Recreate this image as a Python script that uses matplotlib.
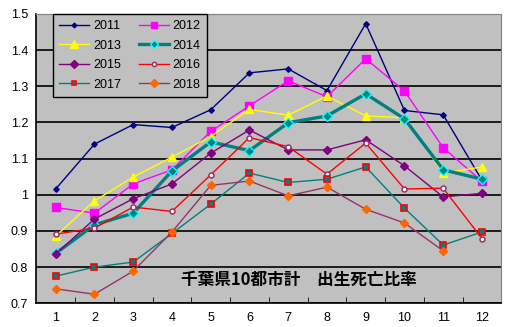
import matplotlib
matplotlib.use("Agg")
import matplotlib.pyplot as plt

plt.rcParams["font.family"] = ["Liberation Sans", "DejaVu Sans"]

months = [1, 2, 3, 4, 5, 6, 7, 8, 9, 10, 11, 12]

r2011 = [1.016, 1.140, 1.194, 1.186, 1.235, 1.337, 1.348, 1.288, 1.473, 1.233, 1.221, 1.040]
r2012 = [0.965, 0.949, 1.030, 1.069, 1.175, 1.246, 1.315, 1.271, 1.376, 1.287, 1.130, 1.037]
r2013 = [0.886, 0.983, 1.049, 1.104, 1.161, 1.236, 1.220, 1.273, 1.218, 1.213, 1.060, 1.077]
r2014 = [0.838, 0.917, 0.949, 1.066, 1.146, 1.122, 1.199, 1.218, 1.279, 1.210, 1.069, 1.043]
r2015 = [0.836, 0.933, 0.989, 1.030, 1.115, 1.179, 1.124, 1.124, 1.152, 1.080, 0.994, 1.004]
r2016 = [0.891, 0.908, 0.966, 0.954, 1.055, 1.158, 1.133, 1.057, 1.143, 1.016, 1.018, 0.879]
r2017 = [0.775, 0.800, 0.814, 0.893, 0.974, 1.060, 1.034, 1.043, 1.077, 0.963, 0.861, 0.897]
r2018 = [0.740, 0.725, 0.789, 0.897, 1.026, 1.038, 0.997, 1.021, 0.960, 0.922, 0.845]

yticks = [0.7, 0.8, 0.9, 1.0, 1.1, 1.2, 1.3, 1.4, 1.5]
ytick_labels = ["0.7", "0.8", "0.9", "1", "1.1", "1.2", "1.3", "1.4", "1.5"]

fig = plt.figure(figsize=(5.15, 3.27), dpi=100)
ax = fig.add_axes([0.0705, 0.0725, 0.903, 0.885])
ax.set_facecolor("#C0C0C0")

styles = {
    "2011": dict(color="#000080", lw=1, marker="D", ms=2.8, mfc="#000080", mec="#000080"),
    "2012": dict(color="#FF00FF", lw=1, marker="s", ms=5.5, mfc="#FF00FF", mec="#FF00FF"),
    "2013": dict(color="#FFFF00", lw=1, marker="^", ms=6, mfc="#FFFF00", mec="#FFFF00"),
    "2014": dict(color="#008080", lw=2.4, marker="D", ms=4.8, mfc="#008080", mec="#00FFFF", mew=1),
    "2015": dict(color="#800080", lw=1, marker="D", ms=4.5, mfc="#800080", mec="#800080"),
    "2016": dict(color="#FF0000", lw=1, marker="o", ms=3.6, mfc="#FFFFFF", mec="#993366", mew=1.1),
    "2017": dict(color="#008080", lw=1, marker="s", ms=3.8, mfc="#008080", mec="#FF0000", mew=1.2),
    "2018": dict(color="#993366", lw=1, marker="D", ms=4.5, mfc="#FF6600", mec="#FF6600"),
}
series = {
    "2011": r2011, "2012": r2012, "2013": r2013, "2014": r2014,
    "2015": r2015, "2016": r2016, "2017": r2017, "2018": r2018,
}

lines = {}
for name, vals in series.items():
    (ln,) = ax.plot(months[:len(vals)], vals, label=name, zorder=3, **styles[name])
    lines[name] = ln

ax.set_xlim(0.5, 12.5)
ax.set_ylim(0.7, 1.5)
ax.set_yticks(yticks)
ax.set_yticklabels(ytick_labels)
ax.set_xticks(months)
ax.set_xticks([m + 0.5 for m in months[:-1]], minor=True)
ax.tick_params(axis="x", which="major", length=0, pad=6, labelsize=9)
ax.tick_params(axis="x", which="minor", length=4, direction="in", color="black")
ax.tick_params(axis="y", length=0, pad=6, labelsize=9)
ax.grid(axis="y", color="black", lw=1.2, zorder=1)
ax.set_axisbelow(True)

for side in ("top", "right"):
    ax.spines[side].set_color("#808080")
for side in ("left", "bottom"):
    ax.spines[side].set_color("black")
    ax.spines[side].set_linewidth(1.2)

# legend filled row by row: 2011 2012 / 2013 2014 / ...
order = ["2011", "2013", "2015", "2017", "2012", "2014", "2016", "2018"]
leg = ax.legend([lines[k] for k in order], order, ncol=2, loc="upper left",
                bbox_to_anchor=(0.036, 1.0), borderaxespad=0, fancybox=False,
                framealpha=1, facecolor="#C0C0C0", edgecolor="black", fontsize=9,
                handlelength=2.4, handletextpad=0.3, columnspacing=1.4,
                labelspacing=0.6, borderpad=0.5, markerscale=0.85)
leg.get_frame().set_linewidth(1)
leg.set_zorder(5)

ax.text(7.28, 0.765, "千葉県10都市計　出生死亡比率", ha="center", va="center",
        fontsize=12, fontweight="bold", family=["Noto Sans CJK JP", "DejaVu Sans"],
        zorder=4)

fig.savefig("out.png", dpi=100)
